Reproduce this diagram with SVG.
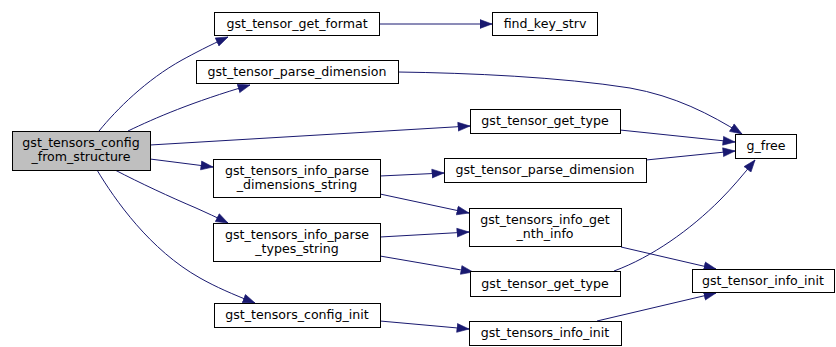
<svg xmlns="http://www.w3.org/2000/svg" width="836" height="347" viewBox="0 0 836 347">
<style>
.n rect{fill:#ffffff;stroke:#000000;stroke-width:1}
.n.main rect{fill:#bfbfbf}
.n text{font-family:"DejaVu Sans","Liberation Sans",sans-serif;font-size:12.6px;fill:#000000;text-anchor:middle}
.e path{fill:none;stroke:#191970;stroke-width:1;marker-end:url(#ah)}
</style>
<defs>
<marker id="ah" markerUnits="userSpaceOnUse" markerWidth="14" markerHeight="11" refX="12.5" refY="5" orient="auto" viewBox="0 0 14 10">
<path d="M0.5,0.6 L12.5,5 L0.5,9.4 z" fill="#191970" stroke="#191970" stroke-width="0.6"/>
</marker>
</defs>
<rect width="836" height="347" fill="#ffffff"/>
<g id="edges" class="e">
<path d="M99,131 C117,109 146,80 182,60 C195,53 208,46 228,37"/>
<path d="M128,131 C155,118 192,102 250,85"/>
<path d="M150,145 L470,126"/>
<path d="M150,159 L213,167"/>
<path d="M115,170 C140,183 170,197 196,208 C207,213 216,217 228,223"/>
<path d="M97,170 C115,200 150,250 200,278 C216,287 232,294 255,303"/>
<path d="M379,24 L492,24"/>
<path d="M398,72 C470,73 560,77 630,88 C675,96 710,114 742,134"/>
<path d="M620,130 L735,142"/>
<path d="M646,160 L735,151"/>
<path d="M614,271 C652,257 690,230 720,200 C732,188 743,175 755,160"/>
<path d="M380,176 L444,173"/>
<path d="M380,194 L469,213"/>
<path d="M380,237 L469,232"/>
<path d="M380,256 L473,272"/>
<path d="M621,247 L716,269"/>
<path d="M380,321 L469,329"/>
<path d="M597,321 L716,293"/>
</g>
<g id="node_main" class="n main"><rect x="12.5" y="131.5" width="138" height="39"/><text x="81" y="147">gst_tensors_config</text><text x="81" y="161">_from_structure</text></g>
<g id="node_get_format" class="n"><rect x="214.5" y="12.5" width="165" height="23"/><text x="297" y="28">gst_tensor_get_format</text></g>
<g id="node_find_key_strv" class="n"><rect x="492.5" y="12.5" width="105" height="23"/><text x="545" y="28">find_key_strv</text></g>
<g id="node_parse_dimension_1" class="n"><rect x="196.5" y="60.5" width="202" height="23"/><text x="297" y="76">gst_tensor_parse_dimension</text></g>
<g id="node_g_free" class="n"><rect x="735.5" y="134.5" width="61" height="24"/><text x="766" y="150">g_free</text></g>
<g id="node_get_type_1" class="n"><rect x="470.5" y="109.5" width="150" height="24"/><text x="545" y="125">gst_tensor_get_type</text></g>
<g id="node_dims_string" class="n"><rect x="213.5" y="159.5" width="167" height="38"/><text x="297" y="175">gst_tensors_info_parse</text><text x="297" y="189">_dimensions_string</text></g>
<g id="node_parse_dimension_2" class="n"><rect x="444.5" y="158.5" width="202" height="24"/><text x="545" y="174">gst_tensor_parse_dimension</text></g>
<g id="node_nth_info" class="n"><rect x="469.5" y="208.5" width="152" height="38"/><text x="545" y="224">gst_tensors_info_get</text><text x="545" y="238">_nth_info</text></g>
<g id="node_types_string" class="n"><rect x="213.5" y="223.5" width="167" height="38"/><text x="297" y="239">gst_tensors_info_parse</text><text x="297" y="253">_types_string</text></g>
<g id="node_get_type_2" class="n"><rect x="470.5" y="271.5" width="150" height="25"/><text x="545" y="288">gst_tensor_get_type</text></g>
<g id="node_config_init" class="n"><rect x="214.5" y="303.5" width="166" height="24"/><text x="297" y="319">gst_tensors_config_init</text></g>
<g id="node_tensors_info_init" class="n"><rect x="469.5" y="321.5" width="152" height="24"/><text x="545" y="337">gst_tensors_info_init</text></g>
<g id="node_tensor_info_init" class="n"><rect x="692.5" y="269.5" width="142" height="23"/><text x="763" y="285">gst_tensor_info_init</text></g>
</svg>
